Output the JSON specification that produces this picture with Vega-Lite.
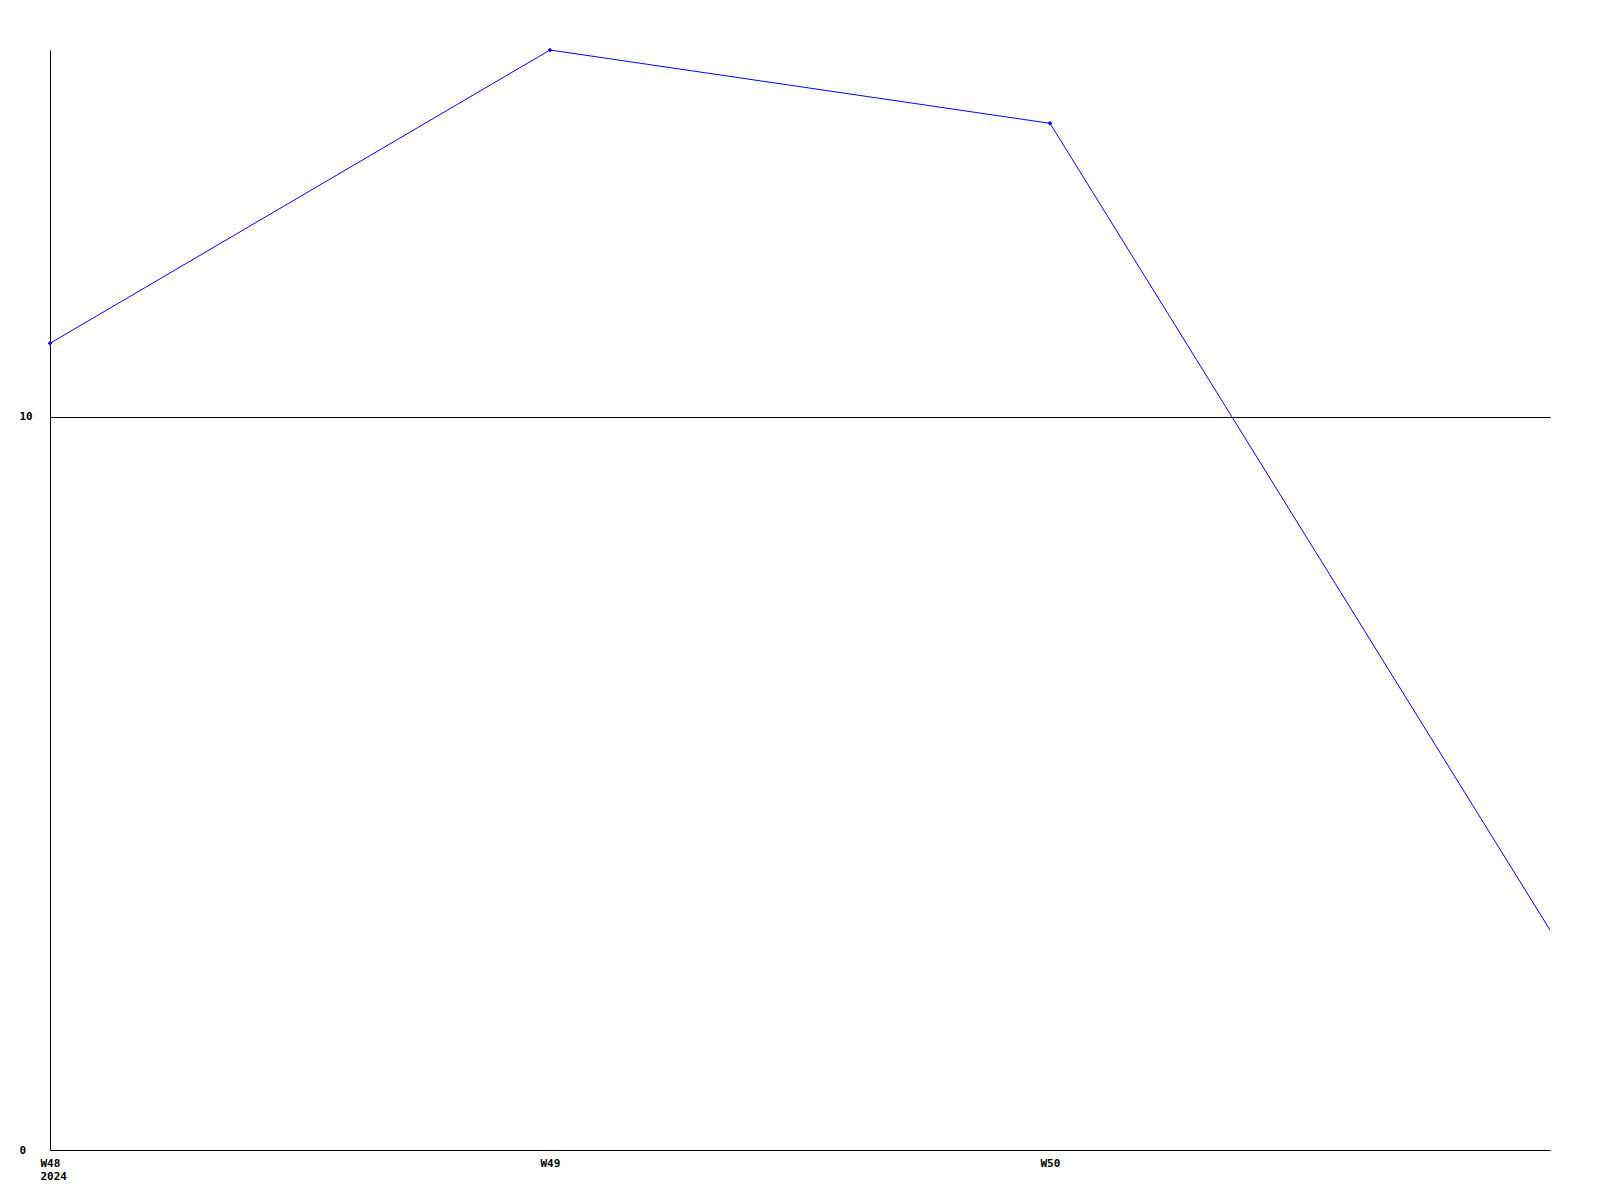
{
  "$schema": "https://vega.github.io/schema/vega-lite/v6.json",
  "width": 1500,
  "height": 1100,
  "autosize": "none",
  "padding": {"left": 50, "top": 50, "right": 50, "bottom": 50},
  "background": "white",
  "config": {
    "view": {"stroke": null},
    "axis": {"labelFont": "DejaVu Sans Mono", "labelFontWeight": "bold", "labelFontSize": 11, "labelColor": "black", "domainColor": "black", "tickSize": 0, "title": null}
  },
  "data": {
    "values": [
      {"week": "W48", "value": 11},
      {"week": "W49", "value": 15},
      {"week": "W50", "value": 14},
      {"week": "W51", "value": 3}
    ]
  },
  "encoding": {
    "x": {
      "field": "week", "type": "ordinal",
      "scale": {"type": "point", "padding": 0, "domain": ["W48", "W49", "W50", "W51"]},
      "axis": {"values": ["W48", "W49", "W50"], "labelAngle": 0, "labelAlign": "left", "labelOffset": -10, "labelPadding": 7, "labelLineHeight": 13, "labelBaseline": "top", "grid": false,
        "labelExpr": "datum.value == 'W48' ? ['W48', '2024'] : datum.value"}
    },
    "y": {
      "field": "value", "type": "quantitative",
      "scale": {"domain": [0, 15], "nice": false, "zero": true},
      "axis": {"values": [0, 10], "grid": true, "gridColor": "black", "gridOpacity": 1, "gridWidth": 1, "labelAlign": "left", "labelPadding": 31, "labelBaseline": "middle"}
    }
  },
  "layer": [
    {"mark": {"type": "line", "color": "#0000ff", "strokeWidth": 1, "clip": true}},
    {
      "transform": [{"filter": "datum.week != 'W51'"}],
      "mark": {"type": "point", "shape": "diamond", "filled": true, "color": "#0000ff", "size": 20, "opacity": 1}
    }
  ]
}
